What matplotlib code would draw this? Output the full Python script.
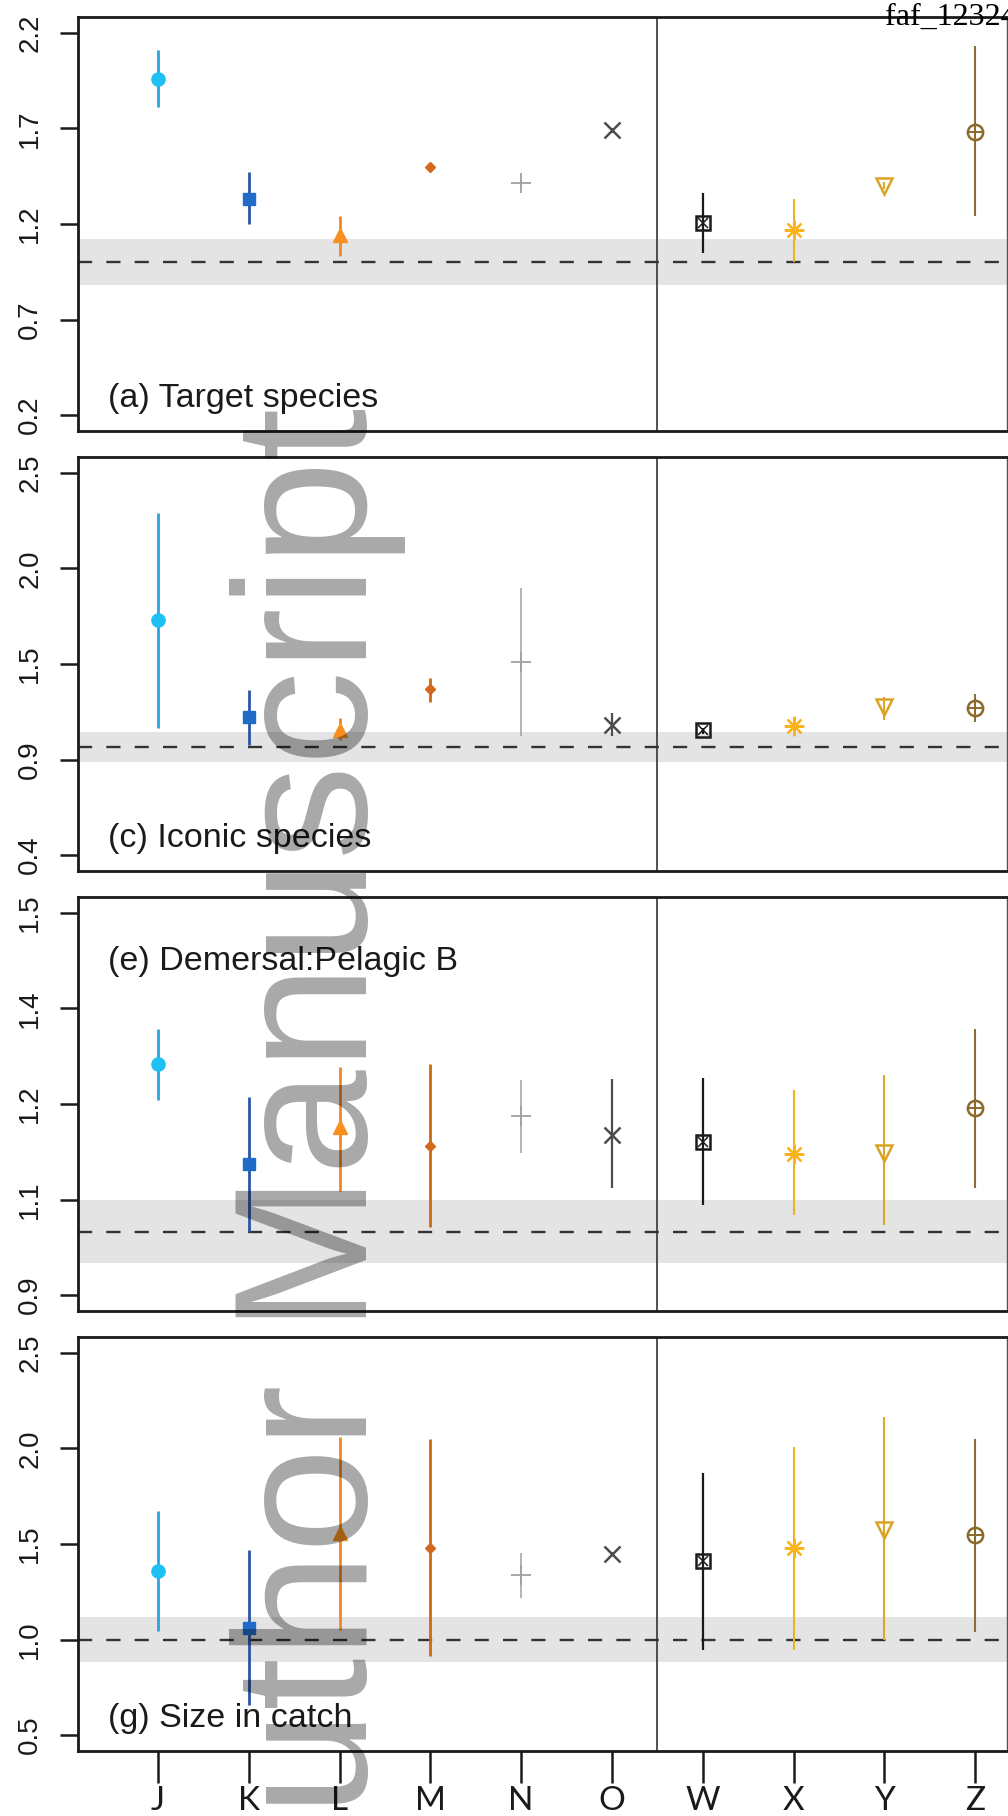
import numpy as np
import matplotlib
matplotlib.use("Agg")
import matplotlib.pyplot as plt

# Sites on the x axis (two groups split by a vertical line)
sites = ["J", "K", "L", "M", "N", "O", "W", "X", "Y", "Z"]

# (a) Target species
est_a = [1.96, 1.33, 1.14, 1.50, 1.415, 1.69, 1.205, 1.17, 1.40, 1.68]
lo_a = [1.81, 1.20, 1.03, 1.48, 1.40, 1.675, 1.05, 1.00, 1.385, 1.24]
hi_a = [2.11, 1.47, 1.24, 1.52, 1.43, 1.705, 1.36, 1.33, 1.42, 2.13]
ticks_a = [0.2, 0.7, 1.2, 1.7, 2.2]

# (c) Iconic species
est_c = [1.73, 1.165, 1.085, 1.34, 1.51, 1.115, 1.083, 1.108, 1.228, 1.222]
lo_c = [1.10, 0.99, 1.02, 1.26, 1.05, 1.05, 1.06, 1.09, 1.15, 1.135]
hi_c = [2.29, 1.335, 1.16, 1.41, 1.90, 1.19, 1.10, 1.125, 1.29, 1.31]
ticks_c = [0.4, 0.9, 1.5, 2.0, 2.5]

# (e) Demersal:Pelagic B
est_e = [1.283, 1.137, 1.176, 1.156, 1.187, 1.168, 1.16, 1.148, 1.149, 1.196]
lo_e = [1.208, 1.031, 1.109, 1.042, 1.149, 1.112, 1.088, 1.067, 1.046, 1.112]
hi_e = [1.358, 1.215, 1.277, 1.283, 1.25, 1.252, 1.254, 1.229, 1.26, 1.358]
ticks_e = [0.9, 1.1, 1.2, 1.4, 1.5]

# (g) Size in catch
est_g = [1.36, 1.06, 1.558, 1.48, 1.338, 1.448, 1.41, 1.479, 1.573, 1.547]
lo_g = [1.045, 0.657, 1.05, 0.914, 1.217, 1.44, 0.945, 0.945, 1.0, 1.04]
hi_g = [1.673, 1.469, 2.06, 2.05, 1.453, 1.456, 1.872, 2.008, 2.165, 2.05]
ticks_g = [0.5, 1.0, 1.5, 2.0, 2.5]

titles = ["(a) Target species", "(c) Iconic species",
          "(e) Demersal:Pelagic B", "(g) Size in catch"]
ref_lines = [1.0, 0.98, 1.031, 1.0]
bands = [(0.88, 1.12), (0.887, 1.07), (0.967, 1.10), (0.882, 1.118)]

marker_cols = ["#1ec0f5", "#1f6cc8", "#f7901e", "#d2691e", "#a0a0a0",
               "#4d4d4d", "#1a1a1a", "#fbb31a", "#d9a326", "#8b6a2b"]
bar_cols = ["#2aa3dd", "#2a56a6", "#f08a20", "#cc6a14", "#a8a8a8",
            "#4d4d4d", "#1a1a1a", "#e8b52a", "#d9a92e", "#8b6c3a"]
bar_lw = [2.0, 2.0, 2.0, 2.0, 1.2, 1.6, 1.6, 1.5, 1.5, 1.5]


def piecewise(ticks):
    # tick labels are evenly spaced on the page, values in between are linear
    t = np.asarray(ticks, float)
    p = np.arange(len(t), dtype=float)

    def fwd(v):
        v = np.asarray(v, float)
        out = np.interp(v, t, p)
        out = np.where(v < t[0], (v - t[0]) / (t[1] - t[0]), out)
        out = np.where(v > t[-1], p[-1] + (v - t[-1]) / (t[-1] - t[-2]), out)
        return out

    def inv(u):
        u = np.asarray(u, float)
        out = np.interp(u, p, t)
        out = np.where(u < 0, t[0] + u * (t[1] - t[0]), out)
        out = np.where(u > p[-1], t[-1] + (u - p[-1]) * (t[-1] - t[-2]), out)
        return out

    return fwd, inv


def draw_marker(ax, xi, yi, i):
    c = marker_cols[i]
    if i == 0:
        ax.plot(xi, yi, "o", ms=9.5, color=c, zorder=5)
    elif i == 1:
        ax.plot(xi, yi, "s", ms=8.5, color=c, zorder=5)
    elif i == 2:
        ax.plot(xi, yi, "^", ms=10, color=c, zorder=5)
    elif i == 3:
        ax.plot(xi, yi, "D", ms=5.5, color=c, zorder=5)
    elif i == 4:
        ax.plot(xi, yi, "+", ms=14, mew=1.3, color=c, zorder=5)
    elif i == 5:
        ax.plot(xi, yi, "x", ms=11, mew=1.8, color=c, zorder=5)
    elif i == 6:
        ax.plot(xi, yi, "s", ms=10.5, mfc="none", mew=1.8, color=c, zorder=5)
        ax.plot(xi, yi, "x", ms=7.5, mew=1.1, color=c, zorder=5)
    elif i == 7:
        ax.plot(xi, yi, marker=(8, 2, 0), ms=14, mew=1.6, color=c, zorder=5)
    elif i == 8:
        ax.plot(xi, yi, "v", ms=11, mfc="none", mew=1.8, color=c, zorder=5)
    else:
        ax.plot(xi, yi, "o", ms=11, mfc="none", mew=1.8, color=c, zorder=5)
        ax.plot(xi, yi, "+", ms=11, mew=1.4, color=c, zorder=5)


panels = [
    (est_a, lo_a, hi_a, ticks_a),
    (est_c, lo_c, hi_c, ticks_c),
    (est_e, lo_e, hi_e, ticks_e),
    (est_g, lo_g, hi_g, ticks_g),
]

W, H = 1008, 1816
fig = plt.figure(figsize=(W / 100, H / 100), dpi=100)
tops = [17, 457, 897, 1337]
ph = 414
left, right = 78, 1007
x = np.arange(1, len(sites) + 1)

for k, (est, lo, hi, ticks) in enumerate(panels):
    ax = fig.add_axes([left / W, 1 - (tops[k] + ph) / H, (right - left) / W, ph / H])
    fwd, inv = piecewise(ticks)
    ax.set_yscale("function", functions=(fwd, inv))
    ax.set_ylim(float(inv(-0.1675)), float(inv(len(ticks) - 1 + 0.1675)))
    ax.set_xlim(0.12, 10.35)

    ax.axhspan(bands[k][0], bands[k][1], color="#e4e4e4", lw=0, zorder=0)
    ax.axhline(ref_lines[k], color="#333333", lw=1.7, ls=(0, (6, 6)), zorder=1)
    ax.axvline(6.5, color="#333333", lw=1.2, zorder=1)

    for i in range(len(sites)):
        ax.plot([x[i], x[i]], [lo[i], hi[i]], color=bar_cols[i], lw=bar_lw[i],
                solid_capstyle="butt", zorder=3)
        draw_marker(ax, x[i], est[i], i)

    ax.set_yticks(ticks, labels=[f"{t:.1f}" for t in ticks])
    ax.minorticks_off()
    ax.tick_params(axis="y", length=13, width=1.8, pad=12, labelsize=20,
                   labelrotation=90, colors="#1a1a1a")
    for lab in ax.get_yticklabels():
        lab.set_family("Liberation Sans")
        lab.set_va("center")

    for side in ["left", "top", "bottom"]:
        ax.spines[side].set_linewidth(2.0)
        ax.spines[side].set_color("#1a1a1a")
    ax.spines["right"].set_linewidth(1.0)
    ax.spines["right"].set_color("#555555")

    if k == 3:
        ax.set_xticks(x, labels=sites)
        ax.tick_params(axis="x", length=23, width=1.8, pad=2, labelsize=24,
                       colors="#1a1a1a")
        for lab in ax.get_xticklabels():
            lab.set_family("Lato")
    else:
        ax.set_xticks([])

    if k == 2:
        ax.text(0.032, 0.824, titles[k], transform=ax.transAxes, fontsize=24.5,
                family="Liberation Sans", color="#1a1a1a", va="baseline")
    else:
        ax.text(0.032, 0.058, titles[k], transform=ax.transAxes, fontsize=24.5,
                family="Liberation Sans", color="#1a1a1a", va="baseline")

# manuscript stamp and id
fig.text(367 / W, 1 - 408 / H, "Author Manuscript", rotation=90,
         rotation_mode="anchor", ha="right", va="baseline", fontsize=136,
         family="Liberation Sans", color="black", alpha=0.34, zorder=10)
fig.text(885 / W, 1 - 25 / H, "faf_12324", ha="left", va="baseline",
         fontsize=23, family="Liberation Serif", color="black", zorder=11)

fig.savefig("out.png", dpi=100)
